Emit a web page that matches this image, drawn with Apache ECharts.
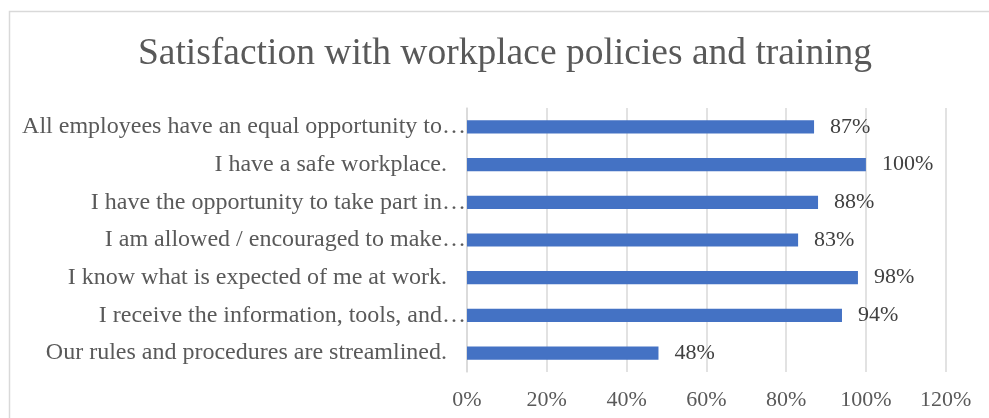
<!DOCTYPE html>
<html>
<head>
<meta charset="utf-8">
<script src="https://cdn.jsdelivr.net/npm/echarts@6/dist/echarts.min.js"></script>
<style>
  html, body { margin: 0; padding: 0; background: #ffffff; }
  #chart { width: 989px; height: 418px; }
</style>
</head>
<body>
<div id="chart"></div>
<script>
// Survey statements (top to bottom) and share of positive answers, in percent
const categories = [
  'All employees have an equal opportunity to\u2026',
  'I have a safe workplace.',
  'I have the opportunity to take part in\u2026',
  'I am allowed / encouraged to make\u2026',
  'I know what is expected of me at work.',
  'I receive the information, tools, and\u2026',
  'Our rules and procedures are streamlined.'
];
const values = [87, 100, 88, 83, 98, 94, 48];
const titleText = 'Satisfaction with workplace policies and training';
const axisMax = 120;
const axisStep = 20;

const serif = '"Liberation Serif", "Times New Roman", serif';

const chart = echarts.init(document.getElementById('chart'), null, { renderer: 'canvas' });

chart.setOption({
  animation: false,
  backgroundColor: '#ffffff',
  graphic: [
    {
      type: 'rect',
      shape: { x: 9.5, y: 11.5, width: 1100, height: 600 },
      style: { fill: 'none', stroke: '#d9d9d9', lineWidth: 1.5 },
      silent: true
    },
    {
      type: 'text',
      x: 505,
      y: 54,
      style: {
        text: titleText,
        fontFamily: serif,
        fontSize: 37.5,
        fill: '#595959',
        align: 'center',
        verticalAlign: 'middle'
      },
      silent: true
    }
  ],
  grid: { left: 467, right: 43.3, top: 108, bottom: 46, containLabel: false },
  xAxis: {
    type: 'value',
    min: 0,
    max: axisMax,
    interval: axisStep,
    axisLine: { show: false },
    axisTick: { show: false },
    splitLine: { show: true, lineStyle: { color: '#d9d9d9', width: 1.5 } },
    axisLabel: {
      formatter: v => v + '%',
      fontFamily: serif,
      fontSize: 22,
      color: '#595959',
      margin: 17
    }
  },
  yAxis: {
    type: 'category',
    inverse: true,
    data: categories,
    axisLine: { show: true, lineStyle: { color: '#d9d9d9', width: 1.5 } },
    axisTick: { show: false },
    axisLabel: {
      margin: 1,
      fontFamily: serif,
      fontSize: 24,
      color: '#595959',
      // shortened statements run up to the axis, full ones keep a gap
      formatter: v => v.endsWith('\u2026') ? '{t|' + v + '}' : '{f|' + v + '}',
      rich: {
        t: { fontFamily: serif, fontSize: 24, color: '#595959' },
        f: { fontFamily: serif, fontSize: 24, color: '#595959', padding: [0, 19, 0, 0] }
      }
    }
  },
  series: [{
    type: 'bar',
    data: values,
    barWidth: '35%',
    itemStyle: { color: '#4472c4' },
    label: {
      show: true,
      position: 'right',
      distance: 16,
      formatter: p => p.value + '%',
      fontFamily: serif,
      fontSize: 22,
      color: '#404040'
    }
  }]
});
</script>
</body>
</html>
